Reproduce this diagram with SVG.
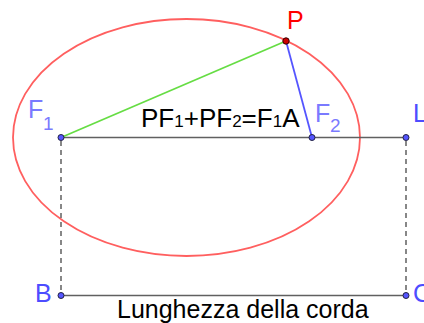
<svg xmlns="http://www.w3.org/2000/svg" width="424" height="323" viewBox="0 0 424 323">
<style>
.lbl{font-family:"Liberation Sans",Arial,sans-serif;}
.pt{fill:#5555ff;stroke:#222244;stroke-width:1}
.seg{stroke:#606060;stroke-width:1.5;fill:none}
.dash{stroke:#606060;stroke-width:1.5;stroke-dasharray:5,4;fill:none}
</style>
<rect width="424" height="323" fill="#ffffff"/>
<g id="ellipse"><ellipse cx="186.5" cy="137.5" rx="173.5" ry="118.5" fill="none" stroke="#ff5f5f" stroke-width="1.8"/></g>
<g id="connectors">
<line class="seg" x1="61" y1="137.5" x2="406" y2="137.5"/>
<line class="seg" x1="61" y1="295.5" x2="406" y2="295.5"/>
<line class="dash" x1="61" y1="141" x2="61" y2="292"/>
<line class="dash" x1="406" y1="141" x2="406" y2="292"/>
<line x1="61" y1="137.5" x2="286" y2="41" stroke="#66dd44" stroke-width="1.8"/>
<line x1="286" y1="41" x2="312" y2="137.5" stroke="#5555ff" stroke-width="1.8"/>
</g>
<g id="F1"><circle class="pt" cx="61" cy="137.5" r="3"/><text class="lbl" fill="#7a7aff" font-size="25" x="28" y="118">F</text><text class="lbl" fill="#7a7aff" font-size="19" x="43" y="130">1</text></g>
<g id="F2"><circle class="pt" cx="312" cy="137.5" r="3"/><text class="lbl" fill="#7a7aff" font-size="25" x="315" y="122">F</text><text class="lbl" fill="#7a7aff" font-size="19" x="330" y="132">2</text></g>
<g id="P"><circle cx="286" cy="41" r="3.2" fill="#cc0000" stroke="#330000" stroke-width="1"/><text class="lbl" fill="#ff0000" font-size="25" x="287" y="29">P</text></g>
<g id="Lpt"><circle class="pt" cx="406" cy="137.5" r="3"/><text class="lbl" fill="#4d4dff" font-size="25" x="413" y="122">L</text></g>
<g id="B"><circle class="pt" cx="61" cy="295.5" r="3"/><text class="lbl" fill="#4d4dff" font-size="25" x="35" y="302">B</text></g>
<g id="C"><circle class="pt" cx="406" cy="295.5" r="3"/><text class="lbl" fill="#4d4dff" font-size="25" x="413" y="302">C</text></g>
<g id="eq"><text class="lbl" fill="#000" font-size="26" x="141" y="127">PF<tspan font-size="17">1</tspan>+PF<tspan font-size="17">2</tspan>=F<tspan font-size="17">1</tspan>A</text></g>
<g id="chord"><text class="lbl" fill="#000" font-size="25" x="117" y="318">Lunghezza della corda</text></g>
</svg>
